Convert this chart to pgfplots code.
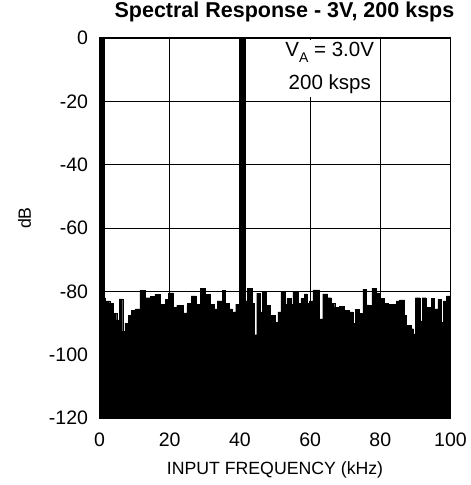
\documentclass[border=0pt]{standalone}
\usepackage{pgfplots}
\pgfplotsset{compat=1.18}
\usepackage{fontspec}
\setmainfont{Liberation Sans}
\begin{document}
\begin{tikzpicture}[x=1pt,y=1pt]
\path[use as bounding box] (-99.5,-67) rectangle (371.5,418);
\begin{axis}[
  at={(0,0)}, anchor=south west,
  scale only axis, width=351pt, height=380pt,
  xmin=0, xmax=100, ymin=-120, ymax=0,
  xtick={0,20,...,100}, ytick={-120,-100,...,0},
  grid=major, major grid style={black, line width=0.8pt},
  axis line style={black, line width=1.2pt},
  tick style={black, line width=0.8pt}, major tick length=4pt,
  tick align=inside,
  /pgf/number format/assume math mode=true,
  tick label style={font=\fontsize{19.5}{22}\selectfont},
  yticklabel style={xshift=-8pt},
  xticklabel style={yshift=-11pt},
  xlabel={INPUT FREQUENCY (kHz)}, ylabel={dB},
  label style={font=\fontsize{17.7}{20}\selectfont},
  xlabel style={at={(axis description cs:0.5,-0.137)}, anchor=center},
  ylabel style={at={(axis description cs:-0.2137,0.526)}, anchor=center},
  title={\bfseries Spectral Response - 3V, 200 ksps},
  every axis title shift=0pt,
  title style={font=\fontsize{21.5}{24}\selectfont, at={(axis description cs:0.527,1.068)}, anchor=center},
  clip=true,
]
\addplot[const plot, fill=black, draw=black, line width=0.3pt] coordinates {
(0,-120) (0,0) (1.4,-82) (1.7,-83) (2.9,-83.7) (3.9,-87) (4.9,-89) (5.6,-82.4) (6.6,-92.6) (7.2,-90) (8.2,-87.6) (9.1,-86) (10.1,-85.5) (11.5,-79.7) (12.9,-82) (14.4,-81.5) (15.8,-81) (17.2,-84) (18.7,-82.5) (19.6,-80.5) (21,-85) (22,-84.4) (23.9,-86.8) (24.9,-84.5) (25.1,-83.7) (26.1,-81.4) (27.6,-84) (28.8,-79) (30.2,-81) (31.6,-84) (32.6,-85.5) (33.5,-83) (35,-79.7) (35.9,-83.7) (36.9,-85.5) (37.8,-86.5) (38.8,-84) (39.8,0) (41.5,-83) (42.1,-79) (43.5,-83.7) (44.2,-93.7) (44.8,-80.6) (45.9,-86.5) (46.4,-80) (47.6,-84.5) (48.6,-87.6) (50,-89.7) (50.8,-86.5) (51.7,-80.3) (52.9,-84) (53.4,-82.3) (54.6,-84) (55.1,-80.3) (56.5,-83.8) (57.4,-82.3) (58.4,-80.8) (59.1,-83.7) (59.8,-83) (60.8,-79.5) (62.7,-88.7) (63.6,-80.8) (65,-82) (66,-83.8) (67,-85) (68.4,-84.8) (69.8,-86) (71.2,-86.5) (72.2,-90) (72.9,-85.7) (74.1,-87) (75,-79.3) (75.9,-84.3) (76.7,-84.5) (77.6,-79) (78.8,-80.5) (79.7,-82.3) (81.1,-83.8) (82.1,-84) (84.5,-83) (85.4,-82.7) (86.9,-87.6) (87.3,-90.8) (88.8,-91.8) (89.4,-93.4) (90,-82) (91.3,-89.3) (91.9,-82) (93,-85) (94.5,-82.3) (95.4,-85.5) (96.4,-82.5) (97.3,-89.8) (98,-83) (98.8,-81.4) (99.7,-81.4) (100,-81.4) (100,-120)
} -- cycle;
\node[fill=white, inner sep=3pt, align=center, font=\fontsize{20.5}{33}\selectfont] at (axis cs:65.6,-9.6) {V\raisebox{-0.5ex}{\fontsize{14}{14}\selectfont A} = 3.0V\\200 ksps};
\end{axis}
\end{tikzpicture}
\end{document}
